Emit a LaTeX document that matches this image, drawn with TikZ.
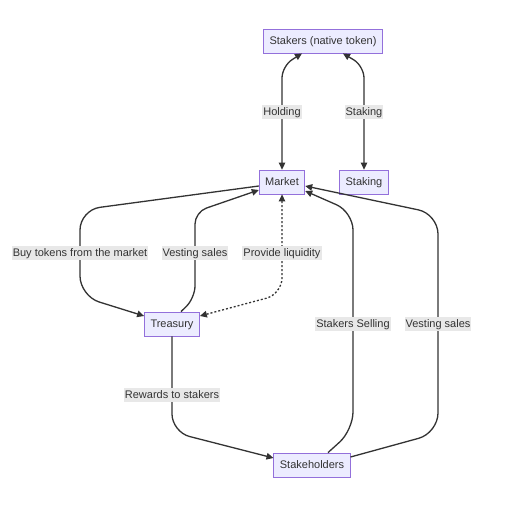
\documentclass[tikz,border=0pt]{standalone}
\usepackage{fontspec}
\setmainfont{Liberation Sans}
\usepackage{xcolor}
\usepackage{tikz}
\usetikzlibrary{arrows.meta}
\definecolor{nodefill}{HTML}{ececff}
\definecolor{nodeline}{HTML}{9370db}
\definecolor{ink}{HTML}{333333}
\definecolor{labelbg}{HTML}{e8e8e8}
\begin{document}
\begin{tikzpicture}[
  x=1pt, y=-1pt,
  box/.style={draw=nodeline, fill=nodefill, line width=0.8pt, minimum height=24pt, inner xsep=6pt, text height=8pt, text depth=0.5pt, font=\fontsize{11}{13}\selectfont, text=ink},
  arrow/.style={-{Triangle[length=7pt,width=6.5pt]}, line width=1.3pt, color=ink},
  twoway/.style={{Triangle[length=7pt,width=6.5pt]}-{Triangle[length=7pt,width=6.5pt]}, line width=1.3pt, color=ink},
  edgelab/.style={fill=labelbg, inner xsep=1pt, inner ysep=2pt, text height=8pt, text depth=2pt, font=\fontsize{11}{13}\selectfont, text=ink},
]
\useasboundingbox[fill=white] (0,0) rectangle (517,517);
\node[box] (stk) at (323,41) {Stakers (native token)};
\node[box] (mkt) at (282,182) {Market};
\node[box] (stg) at (364,182) {Staking};
\node[box] (tre) at (172,324) {Treasury};
\node[box] (sth) at (312,465) {Stakeholders};
\draw[twoway, rounded corners=12pt] (mkt.north) -- (282,66) -- ([xshift=-21pt]stk.south);
\draw[twoway, rounded corners=12pt] ([xshift=20pt]stk.south) -- (364,66) -- (stg.north);
\draw[arrow, rounded corners=20pt] ([yshift=-4pt]mkt.west) -- (80,210) -- (80,296) -- ([yshift=8pt]tre.west);
\draw[arrow, rounded corners=12pt] ([xshift=9pt]tre.north) -- (195,298) -- (195,212) -- ([yshift=-8pt]mkt.west);
\draw[twoway, dash pattern=on 2pt off 2pt, rounded corners=16pt] (mkt.south) -- (282,294) -- ([yshift=8pt]tre.east);
\draw[arrow, rounded corners=18pt] (tre.south) -- (172,432) -- ([yshift=7pt]sth.west);
\draw[arrow, rounded corners=18pt] ([xshift=16pt]sth.north) -- (353,430) -- (353,212) -- ([yshift=-9pt]mkt.east);
\draw[arrow, rounded corners=20pt] ([yshift=8pt]sth.east) -- (438,433) -- (438,214) -- ([yshift=-4pt]mkt.east);
\node[edgelab] (l1) at (282,112) {Holding};
\node[edgelab] (l2) at (364,112) {Staking};
\node[edgelab] (l3) at (80,253) {Buy tokens from the market};
\node[edgelab] (l4) at (195,253) {Vesting sales};
\node[edgelab] (l5) at (282,253) {Provide liquidity};
\node[edgelab] (l6) at (172,395) {Rewards to stakers};
\node[edgelab] (l7) at (353,324) {Stakers Selling};
\node[edgelab] (l8) at (438,324) {Vesting sales};
\end{tikzpicture}
\end{document}
